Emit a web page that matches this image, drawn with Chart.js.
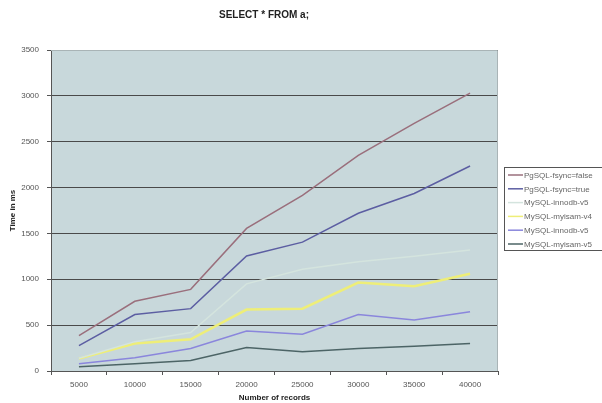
<!DOCTYPE html>
<html>
<head>
<meta charset="utf-8">
<script src="https://cdn.jsdelivr.net/npm/chart.js@4"></script>
<style>
html,body{margin:0;padding:0;background:#fff;}
#wrap{width:602px;height:403px;position:relative;}
</style>
</head>
<body>
<div id="wrap"><canvas id="c" width="602" height="403"></canvas></div>
<script>
const categories = ['5000','10000','15000','20000','25000','30000','35000','40000'];
const pgsqlFsyncFalse = [385, 760, 890, 1555, 1915, 2350, 2700, 3030];
const pgsqlFsyncTrue  = [277, 615, 680, 1255, 1405, 1720, 1935, 2235];
const mysqlInnodbV5a  = [140, 320, 420, 950, 1110, 1190, 1250, 1320];
const mysqlMyisamV4   = [135, 300, 345, 670, 680, 965, 925, 1060];
const mysqlInnodbV5b  = [80, 145, 245, 435, 400, 615, 555, 645];
const mysqlMyisamV5   = [45, 80, 115, 255, 210, 245, 270, 300];
const seriesNames = ['PgSQL-fsync=false','PgSQL-fsync=true','MySQL-innodb-v5','MySQL-myisam-v4','MySQL-innodb-v5','MySQL-myisam-v5'];
const yTicks = [0,500,1000,1500,2000,2500,3000,3500];
const titleText = 'SELECT * FROM a;';

const colors = ['#9a6f7c','#5c5ea2','#d4e4de','#eeee78','#8a86dc','#4c6466'];
const widths = [1.5,1.5,1.5,2.5,1.5,1.5];
const values = [pgsqlFsyncFalse,pgsqlFsyncTrue,mysqlInnodbV5a,mysqlMyisamV4,mysqlInnodbV5b,mysqlMyisamV5];

const bgPlugin = {
  id:'bg',
  beforeDraw(chart){
    const {ctx, chartArea:a} = chart;
    ctx.save();
    ctx.fillStyle = '#c8d8db';
    ctx.fillRect(a.left, a.top, a.right-a.left, a.bottom-a.top);
    ctx.restore();
  },
  afterDatasetsDraw(chart){
    const {ctx, chartArea:a} = chart;
    ctx.save();
    ctx.strokeStyle = '#a9b4b6';
    ctx.lineWidth = 1;
    ctx.beginPath();
    ctx.moveTo(a.left, a.top+0.5); ctx.lineTo(a.right-0.5, a.top+0.5); ctx.lineTo(a.right-0.5, a.bottom);
    ctx.stroke();
    ctx.restore();
  },
  afterDraw(chart){
    const ctx = chart.ctx;
    ctx.save();
    ctx.fillStyle = '#222';
    ctx.font = 'bold 10px "Liberation Sans", Arial, sans-serif';
    ctx.textAlign = 'center'; ctx.textBaseline = 'middle';
    ctx.fillText(titleText, 264, 15);
    const lx = 504, ly = 167, lw = 110, lh = 83;
    ctx.fillStyle = '#fff';
    ctx.fillRect(lx, ly, lw, lh);
    ctx.strokeStyle = '#555'; ctx.lineWidth = 1;
    ctx.strokeRect(lx+0.5, ly+0.5, lw, lh);
    ctx.font = '8px "Liberation Sans", Arial, sans-serif';
    ctx.textAlign = 'left';
    chart.data.datasets.forEach((ds,i)=>{
      const y = 175 + i*13.8;
      ctx.strokeStyle = ds.borderColor; ctx.lineWidth = 1.5;
      ctx.beginPath(); ctx.moveTo(508, y); ctx.lineTo(523, y); ctx.stroke();
      ctx.fillStyle = '#666';
      ctx.fillText(ds.label, 524, y+0.5);
    });
    ctx.restore();
  }
};

new Chart(document.getElementById('c'), {
  type:'line',
  data:{
    labels: categories,
    datasets: values.map((v,i)=>({
      label: seriesNames[i],
      data: v,
      borderColor: colors[i],
      backgroundColor: colors[i],
      borderWidth: widths[i],
      pointRadius: 0,
      tension: 0,
      fill: false
    }))
  },
  options:{
    responsive:false,
    animation:false,
    devicePixelRatio:1,
    layout:{padding:{left:0,right:104,top:50,bottom:0}},
    plugins:{legend:{display:false}, title:{display:false}, tooltip:{enabled:false}},
    scales:{
      x:{
        offset:true,
        grid:{offset:true, drawOnChartArea:false, color:'#555', tickLength:4, tickColor:'#555'},
        border:{color:'#555'},
        ticks:{color:'#555', font:{size:8, family:'"Liberation Sans", Arial, sans-serif'}, padding:5, maxRotation:0},
        title:{display:true, text:'Number of records', color:'#222', font:{size:8, weight:'bold', family:'"Liberation Sans", Arial, sans-serif'}, padding:{top:0,bottom:0}},
        afterFit(s){ s.height = 32; }
      },
      y:{
        min:0, max:3500,
        afterBuildTicks(s){ s.ticks = yTicks.map(v=>({value:v})); },
        grid:{color:'#4a4a4a', lineWidth:1, tickLength:4, tickColor:'#555'},
        border:{color:'#555'},
        ticks:{color:'#555', font:{size:8, family:'"Liberation Sans", Arial, sans-serif'}, padding:8, callback:(v)=>String(v)},
        title:{display:true, text:'Time in ms', color:'#222', font:{size:8, weight:'bold', family:'"Liberation Sans", Arial, sans-serif'}, padding:{top:8,bottom:0}},
        afterFit(s){ s.width = 51; }
      }
    }
  },
  plugins:[bgPlugin]
});
</script>
</body>
</html>
